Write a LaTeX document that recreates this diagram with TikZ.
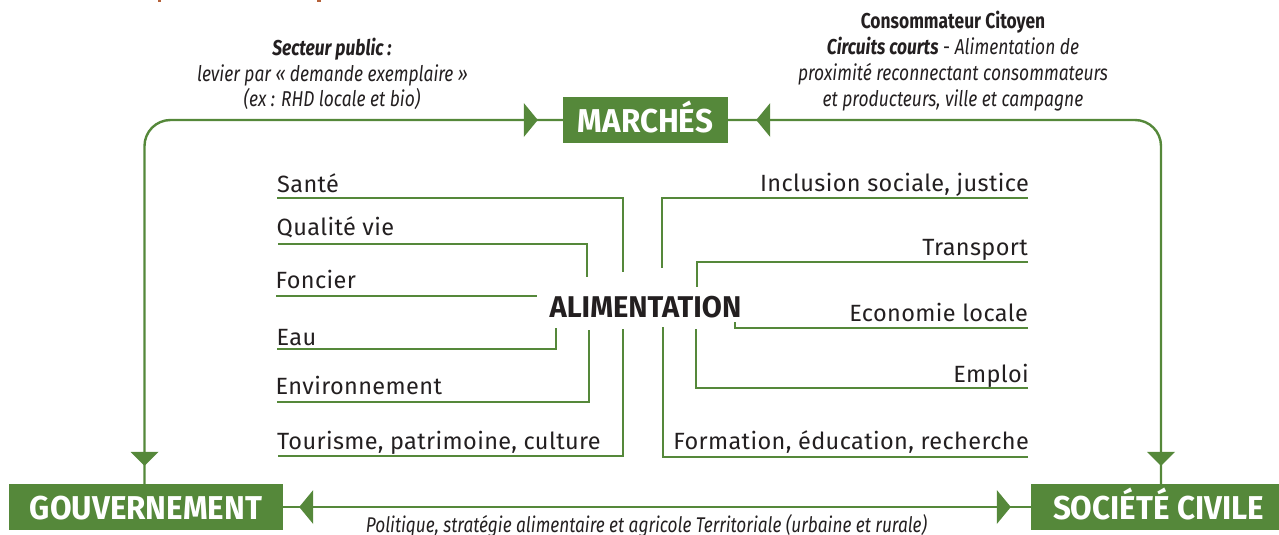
\documentclass[tikz,border=0pt]{standalone}
\usepackage{fontspec}
\setmainfont{Fira Sans}
\newfontfamily\labelfont[LetterSpace=1.6]{Fira Sans}
\newfontfamily\condfont[FakeStretch=0.81]{Fira Sans}
\newfontfamily\boxfont[FakeStretch=0.95]{Fira Sans}
\newfontfamily\alimfont[FakeStretch=0.97]{Fira Sans}
\definecolor{leaf}{HTML}{55883A}
\definecolor{ink}{HTML}{231F20}
\definecolor{rust}{HTML}{B5623A}
\tikzset{
  x=1pt,y=-1pt,
  link/.style={draw=leaf,line width=2.4pt},
  branch/.style={draw=leaf,line width=2.4pt,line cap=butt,line join=miter},
  tipfill/.style={fill=leaf,draw=none},
  block/.style={fill=leaf,text=white,inner sep=0pt,minimum height=46pt,text height=25pt,text depth=0pt,font=\boxfont\fontsize{33}{33}\selectfont\bfseries},
  lab/.style={text=ink,inner sep=0pt,font=\labelfont\fontsize{23.5}{23.5}\selectfont},
  note/.style={text=ink,inner sep=0pt,font=\condfont\fontsize{21.5}{21.5}\selectfont\itshape},
}
\begin{document}
\begin{tikzpicture}
\useasboundingbox (0,0) rectangle (1279,535);
% blocks
\node[block,minimum width=165pt] (marches) at (645.5,120) {MARCHÉS};
\node[block,minimum width=274pt] (gouv) at (146,507) {GOUVERNEMENT};
\node[block,minimum width=248pt] (soc) at (1155,507) {\hspace*{7pt}SOCIÉTÉ CIVILE};
\node[text=ink,inner sep=0pt,anchor=base,font=\alimfont\fontsize{30}{30}\selectfont\bfseries] (alim) at (645.5,317) {ALIMENTATION};
% main connectors
\coordinate (tg) at ([xshift=-1.5pt]gouv.north);
\coordinate (ts) at ([xshift=6pt]soc.north);
\draw[link,rounded corners=26pt] (marches.west) -| (tg);
\draw[link,rounded corners=26pt] (marches.east) -| (ts);
\draw[link] (gouv.east) -- (soc.west);
% triangles
\coordinate (tl) at (marches.west);
\fill[tipfill] ([xshift=-39pt,yshift=17pt]tl) -- ([xshift=-25pt]tl) -- ([xshift=-39pt,yshift=-17pt]tl) -- cycle;
\coordinate (tr) at (marches.east);
\fill[tipfill] ([xshift=42pt,yshift=17pt]tr) -- ([xshift=28pt]tr) -- ([xshift=42pt,yshift=-17pt]tr) -- cycle;
\fill[tipfill] ([xshift=-14pt,yshift=32pt]tg) -- ([yshift=18pt]tg) -- ([xshift=14pt,yshift=32pt]tg) -- cycle;
\fill[tipfill] ([xshift=-14pt,yshift=32pt]ts) -- ([yshift=18pt]ts) -- ([xshift=14pt,yshift=32pt]ts) -- cycle;
\coordinate (bg) at (gouv.east);
\fill[tipfill] ([xshift=30pt,yshift=-17pt]bg) -- ([xshift=16pt]bg) -- ([xshift=30pt,yshift=17pt]bg) -- cycle;
\coordinate (bs) at (soc.west);
\fill[tipfill] ([xshift=-34pt,yshift=-17pt]bs) -- ([xshift=-20pt]bs) -- ([xshift=-34pt,yshift=17pt]bs) -- cycle;
% left labels
\node[lab,anchor=base west] (sante) at (277,192) {Santé};
\node[lab,anchor=base west] (qual) at (276.5,235.5) {Qualité vie};
\node[lab,anchor=base west] (fonc) at (275.5,288) {Foncier};
\node[lab,anchor=base west] (eau) at (276.5,345.5) {Eau};
\node[lab,anchor=base west] (envi) at (275.5,394) {Environnement};
\node[lab,anchor=base west] (tour) at (277,449) {Tourisme, patrimoine, culture};
% right labels
\node[lab,anchor=base east] (incl) at (1029,191) {Inclusion sociale, justice};
\node[lab,anchor=base east] (trans) at (1028,255.5) {Transport};
\node[lab,anchor=base east] (eco) at (1028,321.5) {Economie locale};
\node[lab,anchor=base east] (empl) at (1029,382.5) {Emploi};
\node[lab,anchor=base east] (form) at (1029,449) {Formation, éducation, recherche};
% branch ends
\coordinate (a1) at (277,198); \coordinate (b1) at (623,272);
\coordinate (a2) at (278,244); \coordinate (b2) at (587,277);
\coordinate (a3) at (276,296); \coordinate (b3) at (537,296);
\coordinate (a4) at (277,349); \coordinate (b4) at (556,328);
\coordinate (a5) at (277,402); \coordinate (b5) at (589,330);
\coordinate (a6) at (278,456); \coordinate (b6) at (623,329);
\coordinate (c1) at (1028,198); \coordinate (d1) at (662,268);
\coordinate (c2) at (1028,262); \coordinate (d2) at (697,287);
\coordinate (c3) at (1028,328); \coordinate (d3) at (735,322);
\coordinate (c4) at (1028,388); \coordinate (d4) at (696,329);
\coordinate (c5) at (1028,457); \coordinate (d5) at (663,327);
\draw[branch] (a1) -| (b1);
\draw[branch] (a2) -| (b2);
\draw[branch] (a3) -- (b3);
\draw[branch] (a4) -| (b4);
\draw[branch] (a5) -| (b5);
\draw[branch] (a6) -| (b6);
\draw[branch] (c1) -| (d1);
\draw[branch] (c2) -| (d2);
\draw[branch] (c3) -| (d3);
\draw[branch] (c4) -| (d4);
\draw[branch] (c5) -| (d5);
% notes
\node[note,anchor=base] (n1) at (332,55.5) {\bfseries Secteur public :};
\node[note,anchor=base] (n2) at (332.5,81.5) {levier par « demande exemplaire »};
\node[note,anchor=base] (n3) at (332,106.5) {(ex : RHD locale et bio)};
\node[note,anchor=base,font=\condfont\fontsize{21.5}{21.5}\selectfont\bfseries] (n4) at (953,28.5) {Consommateur Citoyen};
\node[note,anchor=base] (n5) at (953,54.5) {\bfseries Circuits courts\mdseries\upshape{} - \itshape Alimentation de};
\node[note,anchor=base] (n6) at (953,80.5) {proximité reconnectant consommateurs};
\node[note,anchor=base] (n7) at (953,106.5) {et producteurs, ville et campagne};
\node[note,anchor=base,font=\condfont\fontsize{21.3}{21.3}\selectfont\itshape] (n8) at (646.5,532) {Politique, stratégie alimentaire et agricole Territoriale (urbaine et rurale)};
% clipped remains at the top edge
\fill[rust] (158,0) rectangle (160.5,2.5);
\fill[rust] (317,0) rectangle (321,2.5);
\end{tikzpicture}
\end{document}
